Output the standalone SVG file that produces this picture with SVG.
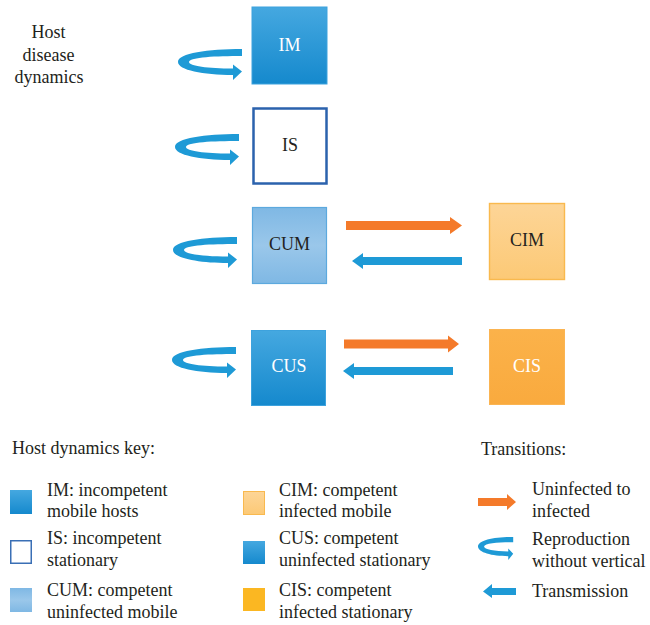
<svg xmlns="http://www.w3.org/2000/svg" xmlns:xlink="http://www.w3.org/1999/xlink" width="650" height="625" viewBox="0 0 650 625">
<defs>
<linearGradient id="gBlue" x1="0" y1="0" x2="0" y2="1"><stop offset="0" stop-color="#45a8e0"/><stop offset="1" stop-color="#1589cd"/></linearGradient>
<linearGradient id="gLight" x1="0" y1="0" x2="0" y2="1"><stop offset="0" stop-color="#7fb8e4"/><stop offset="0.5" stop-color="#9ac7ea"/><stop offset="1" stop-color="#7fb8e4"/></linearGradient>
<linearGradient id="gCim" x1="0" y1="0" x2="0" y2="1"><stop offset="0" stop-color="#fdd597"/><stop offset="1" stop-color="#fcc976"/></linearGradient>
<linearGradient id="gCis" x1="0" y1="0" x2="0" y2="1"><stop offset="0" stop-color="#fbb24a"/><stop offset="1" stop-color="#f9aa3e"/></linearGradient>
<path id="loop" d="M64,0 L64,7 C38,7 12,8 11,13 C11,17 30,19.5 55,19.5 L55,15.5 L64,22.5 L55,31 L55,26 C25,26 0,21 0,13 C0,4 30,0 64,0 Z"/>
</defs>
<style>
text{font-family:"Liberation Serif","Times New Roman",serif;font-size:18px;fill:#231f20}
.w{fill:#ffffff}
.c{text-anchor:middle}
.loop{fill:#1e9ad6}
.orange{fill:#f47a2a}
.blue{fill:#1e9ad6}
</style>

<text class="c" x="48.5" y="38">Host</text>
<text class="c" x="48.5" y="61">disease</text>
<text class="c" x="49" y="83">dynamics</text>

<g id="node-IM">
<rect x="252" y="7" width="75" height="77" fill="url(#gBlue)" stroke="#3da2dd" stroke-width="1"/>
<text class="c w" x="289.5" y="51">IM</text>
</g>
<g id="node-IS">
<rect x="253.5" y="108.5" width="73" height="75" fill="#ffffff" stroke="#2b62ad" stroke-width="2.5"/>
<text class="c" x="290" y="151">IS</text>
</g>
<g id="node-CUM">
<rect x="252.5" y="207.5" width="74" height="76" fill="url(#gLight)" stroke="#5ca9de" stroke-width="1.2"/>
<text class="c" x="289.5" y="250">CUM</text>
</g>
<g id="node-CIM">
<rect x="489.5" y="203.5" width="75" height="76" fill="url(#gCim)" stroke="#f9b94e" stroke-width="1.4"/>
<text class="c" x="527" y="246">CIM</text>
</g>
<g id="node-CUS">
<rect x="251.5" y="330.5" width="74" height="75" fill="url(#gBlue)" stroke="#3da2dd" stroke-width="1"/>
<text class="c w" x="289" y="372">CUS</text>
</g>
<g id="node-CIS">
<rect x="489.5" y="329.5" width="75" height="75" fill="url(#gCis)" stroke="#fbb451" stroke-width="1"/>
<text class="c w" x="527" y="372">CIS</text>
</g>

<g id="connectors">
<use xlink:href="#loop" class="loop" transform="translate(178,49)"/>
<use xlink:href="#loop" class="loop" transform="translate(175,134)"/>
<use xlink:href="#loop" class="loop" transform="translate(173,237)"/>
<use xlink:href="#loop" class="loop" transform="translate(172,347)"/>
<polygon class="orange" points="346,221 450,221 450,217 462,225.5 450,234 450,230 346,230"/>
<polygon class="blue" points="462,257 363,257 363,253 352,261 363,269 363,265 462,265"/>
<polygon class="orange" points="344,339.5 448,339.5 448,335.5 459,344 448,352.5 448,348.5 344,348.5"/>
<polygon class="blue" points="453,367 354,367 354,363 343,371 354,379 354,375 453,375"/>
</g>

<g id="legend">
<text x="12" y="454">Host dynamics key:</text>
<text x="481" y="455">Transitions:</text>

<rect x="10" y="490" width="22" height="24" fill="url(#gBlue)"/>
<text x="47" y="496">IM: incompetent</text>
<text x="47" y="517">mobile hosts</text>
<rect x="10.75" y="540.75" width="20.5" height="22.5" fill="#ffffff" stroke="#3a6fb5" stroke-width="1.5"/>
<text x="47" y="544">IS: incompetent</text>
<text x="47" y="566">stationary</text>
<rect x="10" y="588" width="22" height="24" fill="url(#gLight)"/>
<text x="47" y="596">CUM: competent</text>
<text x="47" y="618">uninfected mobile</text>

<rect x="243.5" y="491.5" width="21" height="23" fill="url(#gCim)" stroke="#f9b94e" stroke-width="1"/>
<text x="279" y="496">CIM: competent</text>
<text x="279" y="517">infected mobile</text>
<rect x="243" y="541" width="22" height="23" fill="url(#gBlue)"/>
<text x="279" y="544">CUS: competent</text>
<text x="279" y="566">uninfected stationary</text>
<rect x="243" y="588" width="22" height="23" fill="#fbb722"/>
<text x="279" y="596">CIS: competent</text>
<text x="279" y="618">infected stationary</text>

<polygon class="orange" points="478,498 507,498 507,494 516,502 507,510 507,506 478,506"/>
<text x="532" y="495">Uninfected to</text>
<text x="532" y="517">infected</text>
<use xlink:href="#loop" class="loop" transform="translate(478,537) scale(0.55,0.74)"/>
<text x="532" y="545">Reproduction</text>
<text x="532" y="567">without vertical</text>
<polygon class="blue" points="516,588 492,588 492,584 483,591.5 492,598 492,595 516,595"/>
<text x="532" y="597">Transmission</text>
</g>
</svg>
